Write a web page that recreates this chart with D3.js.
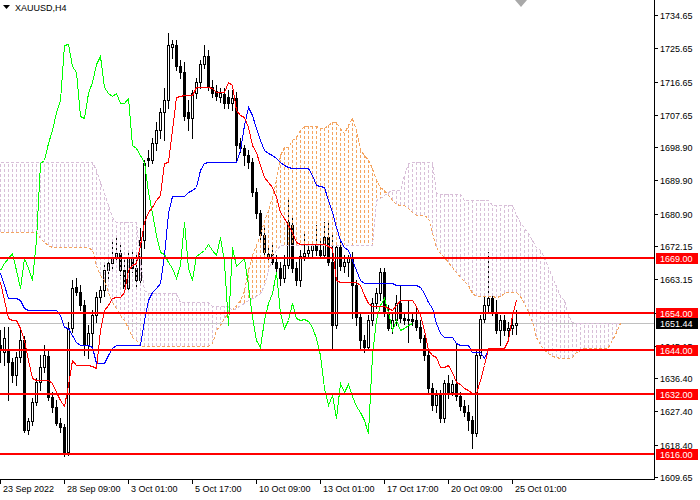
<!DOCTYPE html>
<html>
<head>
<meta charset="utf-8">
<script src="https://cdn.jsdelivr.net/npm/d3@7"></script>
<style>
  body { margin: 0; background: #fff; }
  svg { display: block; font-family: "Liberation Sans", Arial, sans-serif; }
</style>
</head>
<body>
<div id="chart"></div>
<script>
// chart size and plot edges
const width = 700, height = 500;
const plotRight = 654, plotBottom = 479;

// H4 candles, one entry per bar
const opens = [
  1645.4, 1643.5, 1644.0, 1640.8, 1637.2, 1642.1, 1646.7, 1622.4, 1624.8, 1629.9,
  1635.4, 1639.4, 1642.4, 1631.3, 1628.6, 1624.3, 1623.2, 1616.4, 1650.0, 1661.1,
  1659.7, 1656.2, 1645.4, 1648.6, 1653.5, 1658.4, 1660.2, 1665.7, 1667.5, 1668.9,
  1670.2, 1665.7, 1660.8, 1668.9, 1666.2, 1663.0, 1673.8, 1695.9, 1695.4, 1700.0,
  1703.5, 1708.4, 1711.7, 1726.0, 1726.5, 1720.9, 1719.2, 1708.4, 1706.8, 1713.5,
  1716.5, 1721.4, 1723.6, 1715.2, 1714.1, 1712.5, 1713.3, 1712.5, 1710.8, 1712.2,
  1700.0, 1698.7, 1696.8, 1694.9, 1686.8, 1681.1, 1675.1, 1668.9, 1670.0, 1667.8,
  1666.2, 1663.5, 1667.0, 1677.8, 1666.2, 1663.0, 1669.4, 1670.2, 1671.1, 1672.7,
  1671.1, 1669.7, 1674.6, 1667.8, 1650.8, 1671.9, 1666.7, 1667.8, 1668.9, 1661.6,
  1652.9, 1646.7, 1644.8, 1652.1, 1656.7, 1659.4, 1665.1, 1654.0, 1650.0, 1652.1,
  1656.7, 1652.7, 1652.1, 1652.4, 1652.1, 1650.2, 1647.3, 1642.7, 1633.7, 1629.1,
  1631.8, 1625.6, 1635.1, 1632.6, 1634.8, 1631.6, 1628.9, 1627.2, 1625.1, 1621.6,
  1642.7, 1652.4, 1656.2, 1658.1, 1654.3, 1649.4, 1652.1, 1649.4, 1649.9, 1650.8
];
const highs = [
  1649.4, 1650.2, 1650.2, 1641.8, 1643.5, 1649.9, 1647.8, 1625.6, 1631.0, 1636.4,
  1642.6, 1645.4, 1644.0, 1632.6, 1630.5, 1625.6, 1624.0, 1651.6, 1663.0, 1663.5,
  1661.6, 1657.5, 1650.8, 1654.8, 1659.7, 1661.4, 1667.0, 1669.7, 1673.8, 1674.3,
  1672.4, 1668.4, 1671.1, 1670.5, 1669.7, 1677.0, 1695.4, 1698.1, 1701.4, 1705.7,
  1709.5, 1714.9, 1729.8, 1727.9, 1727.9, 1722.5, 1721.9, 1711.7, 1714.4, 1717.6,
  1722.5, 1726.5, 1725.2, 1717.1, 1715.7, 1714.9, 1714.9, 1714.4, 1714.4, 1713.8,
  1701.4, 1699.5, 1698.1, 1696.0, 1687.8, 1681.9, 1677.6, 1672.4, 1673.2, 1669.7,
  1667.8, 1669.7, 1684.6, 1680.5, 1667.8, 1671.1, 1675.9, 1672.4, 1673.2, 1677.8,
  1673.8, 1678.6, 1678.6, 1675.1, 1672.4, 1673.8, 1669.7, 1669.7, 1670.5, 1663.0,
  1654.3, 1648.1, 1653.5, 1658.1, 1660.8, 1666.2, 1666.2, 1656.2, 1654.3, 1658.9,
  1661.6, 1654.3, 1657.5, 1654.3, 1655.4, 1652.1, 1648.1, 1644.0, 1635.1, 1633.2,
  1633.2, 1635.9, 1637.2, 1635.9, 1645.9, 1632.6, 1630.5, 1629.1, 1626.2, 1644.0,
  1653.5, 1658.4, 1670.5, 1658.9, 1657.5, 1653.5, 1653.5, 1651.6, 1652.7, 1654.8
];
const lows = [
  1640.8, 1640.0, 1630.5, 1635.4, 1634.5, 1640.8, 1621.8, 1621.3, 1623.7, 1629.1,
  1633.2, 1638.1, 1630.5, 1627.2, 1623.7, 1621.8, 1615.3, 1615.6, 1648.9, 1658.9,
  1654.8, 1642.7, 1641.9, 1645.1, 1651.6, 1657.0, 1658.6, 1663.5, 1665.7, 1667.8,
  1664.3, 1659.7, 1659.7, 1665.1, 1661.1, 1662.1, 1671.6, 1693.8, 1694.6, 1698.1,
  1701.4, 1700.8, 1709.5, 1723.0, 1719.8, 1717.6, 1706.2, 1703.5, 1701.4, 1712.2,
  1714.9, 1720.3, 1714.4, 1712.5, 1711.7, 1711.1, 1709.5, 1709.5, 1709.0, 1694.9,
  1697.6, 1694.1, 1693.3, 1685.7, 1679.7, 1673.8, 1668.9, 1667.8, 1667.3, 1665.1,
  1661.6, 1662.4, 1666.2, 1665.1, 1661.6, 1661.3, 1668.4, 1668.9, 1669.4, 1669.7,
  1668.9, 1668.9, 1667.0, 1644.0, 1650.0, 1665.7, 1665.1, 1664.0, 1652.7, 1650.8,
  1644.0, 1643.5, 1644.0, 1650.8, 1655.4, 1657.5, 1653.2, 1649.4, 1648.6, 1650.8,
  1651.6, 1651.1, 1646.2, 1650.8, 1649.4, 1646.2, 1641.3, 1632.6, 1627.8, 1627.2,
  1624.5, 1624.5, 1631.0, 1631.8, 1630.5, 1627.8, 1626.2, 1622.4, 1617.5, 1620.7,
  1641.9, 1651.6, 1654.3, 1653.5, 1648.6, 1645.4, 1648.1, 1647.8, 1648.3, 1648.3
];
const closes = [
  1644.0, 1647.3, 1640.8, 1637.2, 1642.1, 1646.7, 1622.4, 1624.8, 1629.9, 1635.4,
  1639.4, 1642.7, 1631.3, 1628.6, 1624.3, 1623.2, 1616.4, 1650.0, 1660.8, 1659.7,
  1656.2, 1645.4, 1648.6, 1653.5, 1658.4, 1660.2, 1665.7, 1667.5, 1668.9, 1670.2,
  1665.7, 1660.8, 1668.9, 1666.2, 1663.0, 1673.8, 1694.6, 1695.4, 1700.0, 1703.5,
  1708.4, 1711.7, 1726.5, 1726.8, 1720.9, 1719.2, 1707.3, 1706.8, 1713.5, 1716.5,
  1721.4, 1723.6, 1715.2, 1713.5, 1712.7, 1713.5, 1710.8, 1710.8, 1712.2, 1699.5,
  1698.7, 1696.8, 1694.9, 1686.8, 1681.1, 1675.1, 1670.5, 1670.0, 1667.8, 1666.2,
  1663.5, 1667.0, 1678.6, 1666.2, 1663.0, 1669.4, 1670.2, 1671.1, 1672.7, 1671.1,
  1669.7, 1674.6, 1667.8, 1650.8, 1671.9, 1666.7, 1667.8, 1668.9, 1661.6, 1652.9,
  1646.7, 1644.8, 1652.1, 1656.7, 1659.4, 1665.1, 1654.0, 1650.0, 1652.1, 1656.7,
  1652.7, 1652.1, 1652.4, 1651.9, 1650.2, 1647.3, 1642.7, 1633.7, 1629.1, 1631.8,
  1625.6, 1635.1, 1632.6, 1634.8, 1631.6, 1628.9, 1627.2, 1625.1, 1621.6, 1642.7,
  1652.4, 1656.2, 1658.1, 1654.3, 1649.4, 1652.1, 1649.4, 1649.9, 1650.8, 1651.44
];

// Ichimoku lines
const tenkan = [
  1662.4, 1657.5, 1652.7, 1652.1, 1652.1, 1649.9, 1646.7, 1641.3, 1636.4, 1635.9,
  1635.9, 1635.9, 1635.9, 1635.1, 1632.6, 1630.5, 1628.9, 1634.5, 1641.3, 1640.0,
  1640.0, 1640.0, 1640.0, 1639.7, 1639.1, 1649.4, 1654.8, 1656.2, 1658.1, 1658.4,
  1658.4, 1659.7, 1665.7, 1667.0, 1667.5, 1672.4, 1678.6, 1681.3, 1682.7, 1684.6,
  1685.9, 1694.6, 1694.9, 1703.5, 1712.5, 1712.7, 1713.0, 1713.0, 1713.0, 1715.2,
  1715.2, 1715.2, 1715.2, 1714.9, 1713.8, 1713.8, 1713.8, 1716.5, 1715.7, 1709.0,
  1707.6, 1707.1, 1704.4, 1699.5, 1697.6, 1694.1, 1690.8, 1689.5, 1688.1, 1685.4,
  1681.3, 1679.7, 1677.8, 1676.0, 1673.2, 1672.7, 1672.7, 1672.7, 1672.7, 1672.7,
  1672.7, 1672.7, 1672.1, 1671.6, 1663.0, 1662.4, 1662.4, 1662.4, 1662.4, 1662.4,
  1661.6, 1658.9, 1656.7, 1655.9, 1655.9, 1655.9, 1655.9, 1655.4, 1654.8, 1656.2,
  1657.5, 1657.5, 1657.5, 1657.5, 1655.9, 1653.5, 1649.4, 1644.0, 1642.7, 1642.1,
  1639.4, 1639.4, 1640.0, 1638.1, 1635.4, 1634.8, 1633.7, 1633.2, 1632.4, 1632.4,
  1635.9, 1640.0, 1644.6, 1644.6, 1644.6, 1644.6, 1644.6, 1646.7, 1653.5, 1657.5
];
const kijun = [
  1664.8, 1661.6, 1658.1, 1658.1, 1658.1, 1657.5, 1655.4, 1654.8, 1654.8, 1654.8,
  1654.8, 1654.8, 1654.8, 1654.8, 1654.8, 1653.5, 1650.2, 1650.0, 1648.1, 1646.2,
  1645.4, 1645.4, 1645.4, 1644.8, 1640.5, 1640.5, 1640.5, 1642.7, 1644.6, 1645.4,
  1645.4, 1645.4, 1645.4, 1645.4, 1645.4, 1645.4, 1652.1, 1657.5, 1659.7, 1660.8,
  1662.1, 1669.7, 1681.1, 1685.7, 1685.7, 1685.7, 1685.7, 1686.8, 1687.3, 1688.1,
  1692.7, 1694.6, 1694.9, 1694.9, 1694.9, 1694.9, 1694.9, 1694.9, 1694.9, 1694.9,
  1698.1, 1704.9, 1709.7, 1707.6, 1704.1, 1700.8, 1698.1, 1697.3, 1696.8, 1696.0,
  1694.9, 1694.1, 1693.5, 1693.2, 1693.2, 1693.2, 1693.2, 1693.2, 1691.4, 1688.7,
  1688.4, 1688.1, 1684.6, 1681.4, 1677.3, 1673.8, 1671.9, 1671.1, 1668.4, 1665.7,
  1663.0, 1662.1, 1662.1, 1662.1, 1662.1, 1662.1, 1662.1, 1662.1, 1662.1, 1661.6,
  1661.6, 1661.6, 1661.6, 1661.6, 1661.6, 1661.1, 1659.4, 1657.0, 1655.4, 1651.3,
  1648.6, 1647.5, 1647.5, 1647.5, 1645.9, 1645.4, 1645.4, 1645.4, 1643.5, 1643.5,
  1643.5, 1641.8, 1644.3, 1644.3, 1644.3, 1644.3, 1644.3, 1644.3, 1644.3, 1644.3
];
// senkou spans run 26 bars past the last candle
const spanA = [
  1675.9, 1675.9, 1675.9, 1675.9, 1675.9, 1675.9, 1675.9, 1675.9, 1675.9, 1675.9,
  1674.3, 1673.2, 1672.4, 1671.9, 1671.9, 1671.9, 1671.9, 1671.9, 1671.9, 1671.9,
  1671.9, 1671.9, 1671.9, 1671.1, 1667.0, 1664.3, 1663.0, 1659.7, 1657.0, 1655.4,
  1653.5, 1652.1, 1649.9, 1647.5, 1646.7, 1645.1, 1645.1, 1645.1, 1645.1, 1645.1,
  1645.1, 1645.1, 1645.1, 1645.1, 1645.1, 1645.1, 1645.1, 1645.1, 1645.1, 1645.1,
  1645.1, 1645.1, 1645.1, 1645.9, 1649.4, 1650.8, 1652.7, 1654.0, 1654.8, 1656.2,
  1657.5, 1660.2, 1665.7, 1669.7, 1672.4, 1675.1, 1679.2, 1681.9, 1685.4, 1690.0,
  1696.8, 1698.9, 1698.9, 1700.8, 1701.6, 1703.5, 1704.6, 1704.6, 1704.6, 1704.6,
  1704.1, 1704.1, 1704.9, 1705.7, 1705.7, 1704.1, 1702.7, 1704.9, 1706.8, 1703.5,
  1698.1, 1696.8, 1695.4, 1693.3, 1690.0, 1688.1, 1687.3, 1685.9, 1684.6, 1683.5,
  1683.2, 1683.2, 1682.4, 1681.3, 1680.5, 1680.5, 1680.5, 1679.7, 1675.7, 1671.9,
  1670.2, 1669.2, 1667.8, 1666.5, 1665.1, 1663.8, 1662.7, 1661.6, 1659.4, 1658.6,
  1658.6, 1658.6, 1658.6, 1658.6, 1658.4, 1658.6, 1659.4, 1659.7, 1659.7, 1659.7,
  1658.6, 1656.7, 1654.3, 1651.6, 1647.5, 1645.6, 1644.0, 1643.2, 1642.4, 1642.1,
  1641.8, 1641.8, 1641.8, 1642.1, 1643.5, 1644.0, 1644.6, 1644.6, 1644.6, 1644.6,
  1644.6, 1644.6, 1644.8, 1646.7, 1648.9, 1651.3
];
const spanB = [
  1694.9, 1694.9, 1694.9, 1694.9, 1694.9, 1694.9, 1694.9, 1694.9, 1694.9, 1694.9,
  1694.9, 1694.9, 1694.9, 1694.9, 1694.9, 1694.9, 1694.9, 1694.9, 1694.9, 1694.9,
  1694.9, 1694.9, 1694.9, 1694.9, 1692.7, 1689.5, 1686.5, 1683.2, 1680.0, 1678.6,
  1678.6, 1678.6, 1678.6, 1678.6, 1678.6, 1668.4, 1660.2, 1659.4, 1659.4, 1659.4,
  1659.4, 1659.4, 1659.4, 1659.4, 1659.4, 1657.0, 1657.0, 1657.0, 1657.0, 1657.0,
  1657.0, 1657.0, 1657.0, 1655.9, 1655.9, 1655.9, 1655.9, 1655.9, 1654.8, 1655.4,
  1656.2, 1656.7, 1657.5, 1658.1, 1658.6, 1659.4, 1661.6, 1665.7, 1669.2, 1671.1,
  1672.4, 1672.4, 1672.4, 1672.4, 1672.4, 1672.4, 1672.4, 1672.4, 1672.4, 1672.4,
  1672.4, 1672.4, 1672.4, 1672.4, 1672.4, 1672.4, 1672.4, 1672.4, 1672.4, 1672.4,
  1672.4, 1672.4, 1672.4, 1672.4, 1684.6, 1685.2, 1685.9, 1686.8, 1687.3, 1687.3,
  1687.3, 1691.4, 1694.6, 1694.9, 1694.9, 1694.9, 1694.9, 1694.9, 1694.9, 1686.5,
  1686.3, 1686.3, 1686.3, 1686.3, 1686.3, 1686.3, 1684.6, 1684.6, 1684.6, 1684.6,
  1684.6, 1684.6, 1684.6, 1683.2, 1683.2, 1683.2, 1683.2, 1683.2, 1683.2, 1680.5,
  1678.6, 1677.0, 1675.7, 1673.8, 1671.9, 1671.1, 1669.2, 1666.5, 1663.8, 1661.2,
  1658.7, 1657.5, 1653.5, 1651.6, 1651.3, 1651.3, 1651.3, 1651.3, 1651.3, 1651.3,
  1651.3, 1651.3, 1651.3, 1651.3, 1651.3, 1651.3
];
const chikouShift = 26;

// horizontal levels and axis labels
const levels = [1669, 1654, 1644, 1632, 1616];
const lastPrice = 1651.44;
const priceTicks = ["1734.65", "1725.65", "1716.65", "1707.65", "1698.90", "1689.90", "1680.90",
  "1672.15", "1663.15", "1654.15", "1645.15", "1636.40", "1627.40", "1618.40", "1609.65"];
const timeTicks = [0, 16, 32, 48, 64, 80, 96, 112, 128];
const timeLabels = ["23 Sep 2022", "28 Sep 09:00", "3 Oct 01:00", "5 Oct 17:00", "10 Oct 09:00",
  "13 Oct 01:00", "17 Oct 17:00", "20 Oct 09:00", "25 Oct 01:00"];

const svg = d3.select("#chart").append("svg")
  .attr("width", width)
  .attr("height", height)
  .attr("shape-rendering", "crispEdges");

// bar i sits on pixel column 4*i
const x = d3.scaleLinear().domain([0, 1]).range([0.5, 4.5]);
const y = d3.scaleLinear().domain([1609.65, 1734.65]).range([477, 15]);
const py = v => Math.round(y(v));

const plot = svg.append("g");

// last price line behind the candles
plot.append("line")
  .attr("x1", 0).attr("x2", plotRight)
  .attr("y1", py(lastPrice) + 0.5).attr("y2", py(lastPrice) + 0.5)
  .attr("stroke", "#c0c0c0");

const candles = closes.map((c, i) => ({ i, o: opens[i], h: highs[i], l: lows[i], c }));

plot.selectAll(".wick").data(candles).join("line")
  .attr("class", "wick")
  .attr("x1", d => x(d.i)).attr("x2", d => x(d.i))
  .attr("y1", d => py(d.h)).attr("y2", d => py(d.l) + 1)
  .attr("stroke", "#000");

plot.selectAll(".body").data(candles).join("rect")
  .attr("class", "body")
  .attr("x", d => x(d.i) - 1.5)
  .attr("y", d => py(Math.max(d.o, d.c)))
  .attr("width", 3)
  .attr("height", d => py(Math.min(d.o, d.c)) - py(Math.max(d.o, d.c)) + 1)
  .attr("fill", "#000");

// hollow inside of bull candles
plot.selectAll(".hollow").data(candles.filter(d => d.c > d.o && py(d.o) - py(d.c) >= 2)).join("rect")
  .attr("class", "hollow")
  .attr("x", d => x(d.i) - 0.5)
  .attr("y", d => py(d.c) + 1)
  .attr("width", 1)
  .attr("height", d => py(d.o) - py(d.c) - 1)
  .attr("fill", "#fff");

// kumo: dotted histogram between the two spans
const sandy = "#f4a460", thistle = "#d8bfd8";
const cloud = spanA.map((a, i) => ({ i, a, b: spanB[i] }));
plot.selectAll(".kumo").data(cloud).join("line")
  .attr("class", "kumo")
  .attr("x1", d => x(d.i)).attr("x2", d => x(d.i))
  .attr("y1", d => py(d.a)).attr("y2", d => py(d.b))
  .attr("stroke", d => d.a >= d.b ? sandy : thistle)
  .attr("stroke-dasharray", "3,2");

const line = d3.line()
  .x((d, i) => x(i))
  .y(d => py(d) + 0.5);
const shiftedLine = d3.line()
  .x(d => x(d.i))
  .y(d => py(d.v) + 0.5);

plot.append("path").attr("d", line(spanA))
  .attr("fill", "none").attr("stroke", sandy).attr("stroke-dasharray", "3,2");
plot.append("path").attr("d", line(spanB))
  .attr("fill", "none").attr("stroke", thistle).attr("stroke-dasharray", "3,2");

// chikou: closes drawn 26 bars back
const chikou = closes.slice(chikouShift).map((v, k) => ({ i: k, v }));
plot.append("path").attr("d", shiftedLine(chikou))
  .attr("fill", "none").attr("stroke", "#00ff00");

plot.append("path").attr("d", line(kijun))
  .attr("fill", "none").attr("stroke", "#0000ff");
plot.append("path").attr("d", line(tenkan))
  .attr("fill", "none").attr("stroke", "#ff0000");

// support / resistance levels
plot.selectAll(".level").data(levels).join("line")
  .attr("class", "level")
  .attr("x1", 0).attr("x2", plotRight)
  .attr("y1", d => py(d)).attr("y2", d => py(d))
  .attr("stroke", "#ff0000")
  .attr("stroke-width", 2);

// axes
svg.append("line")
  .attr("x1", plotRight + 0.5).attr("x2", plotRight + 0.5)
  .attr("y1", 0).attr("y2", plotBottom + 1)
  .attr("stroke", "#000");
svg.append("line")
  .attr("x1", 0).attr("x2", plotRight + 1)
  .attr("y1", plotBottom + 0.5).attr("y2", plotBottom + 0.5)
  .attr("stroke", "#000");

const yAxis = svg.append("g");
yAxis.selectAll("line").data(priceTicks).join("line")
  .attr("x1", plotRight + 1).attr("x2", plotRight + 4)
  .attr("y1", d => py(+d) + 0.5).attr("y2", d => py(+d) + 0.5)
  .attr("stroke", "#000");
yAxis.selectAll("text").data(priceTicks).join("text")
  .attr("x", 660)
  .attr("y", d => py(+d) + 3.5)
  .attr("font-size", "9px")
  .attr("fill", "#000")
  .text(d => d);

const xAxis = svg.append("g");
xAxis.selectAll("line").data(timeTicks).join("line")
  .attr("x1", d => x(d)).attr("x2", d => x(d))
  .attr("y1", plotBottom + 1).attr("y2", plotBottom + 5)
  .attr("stroke", "#000");
xAxis.selectAll("text").data(timeTicks).join("text")
  .attr("x", d => Math.round(x(d)) + 2)
  .attr("y", 492)
  .attr("font-size", "9px")
  .attr("fill", "#000")
  .text((d, k) => timeLabels[k]);

// price tags on the right
const tags = levels.map(v => ({ v, text: v.toFixed(2), bg: "#ff0000" }))
  .concat([{ v: lastPrice, text: lastPrice.toFixed(2), bg: "#000" }]);
const tag = svg.selectAll(".tag").data(tags).join("g").attr("class", "tag");
tag.append("rect")
  .attr("x", 656).attr("width", 42)
  .attr("y", d => py(d.v) - 5).attr("height", 11)
  .attr("fill", d => d.bg);
tag.append("text")
  .attr("x", 660)
  .attr("y", d => py(d.v) + 3.5)
  .attr("font-size", "9px")
  .attr("fill", "#fff")
  .text(d => d.text);

// symbol caption and chart shift marker
svg.append("path").attr("d", "M3,5 L10,5 L6.5,9 Z").attr("fill", "#000")
  .attr("shape-rendering", "geometricPrecision");
svg.append("text")
  .attr("x", 15).attr("y", 11)
  .attr("font-size", "9px")
  .attr("fill", "#000")
  .text("XAUUSD,H4");
svg.append("path").attr("d", "M515,0 L527,0 L521,7 Z").attr("fill", "#a9a9a9")
  .attr("shape-rendering", "geometricPrecision");
</script>
</body>
</html>
